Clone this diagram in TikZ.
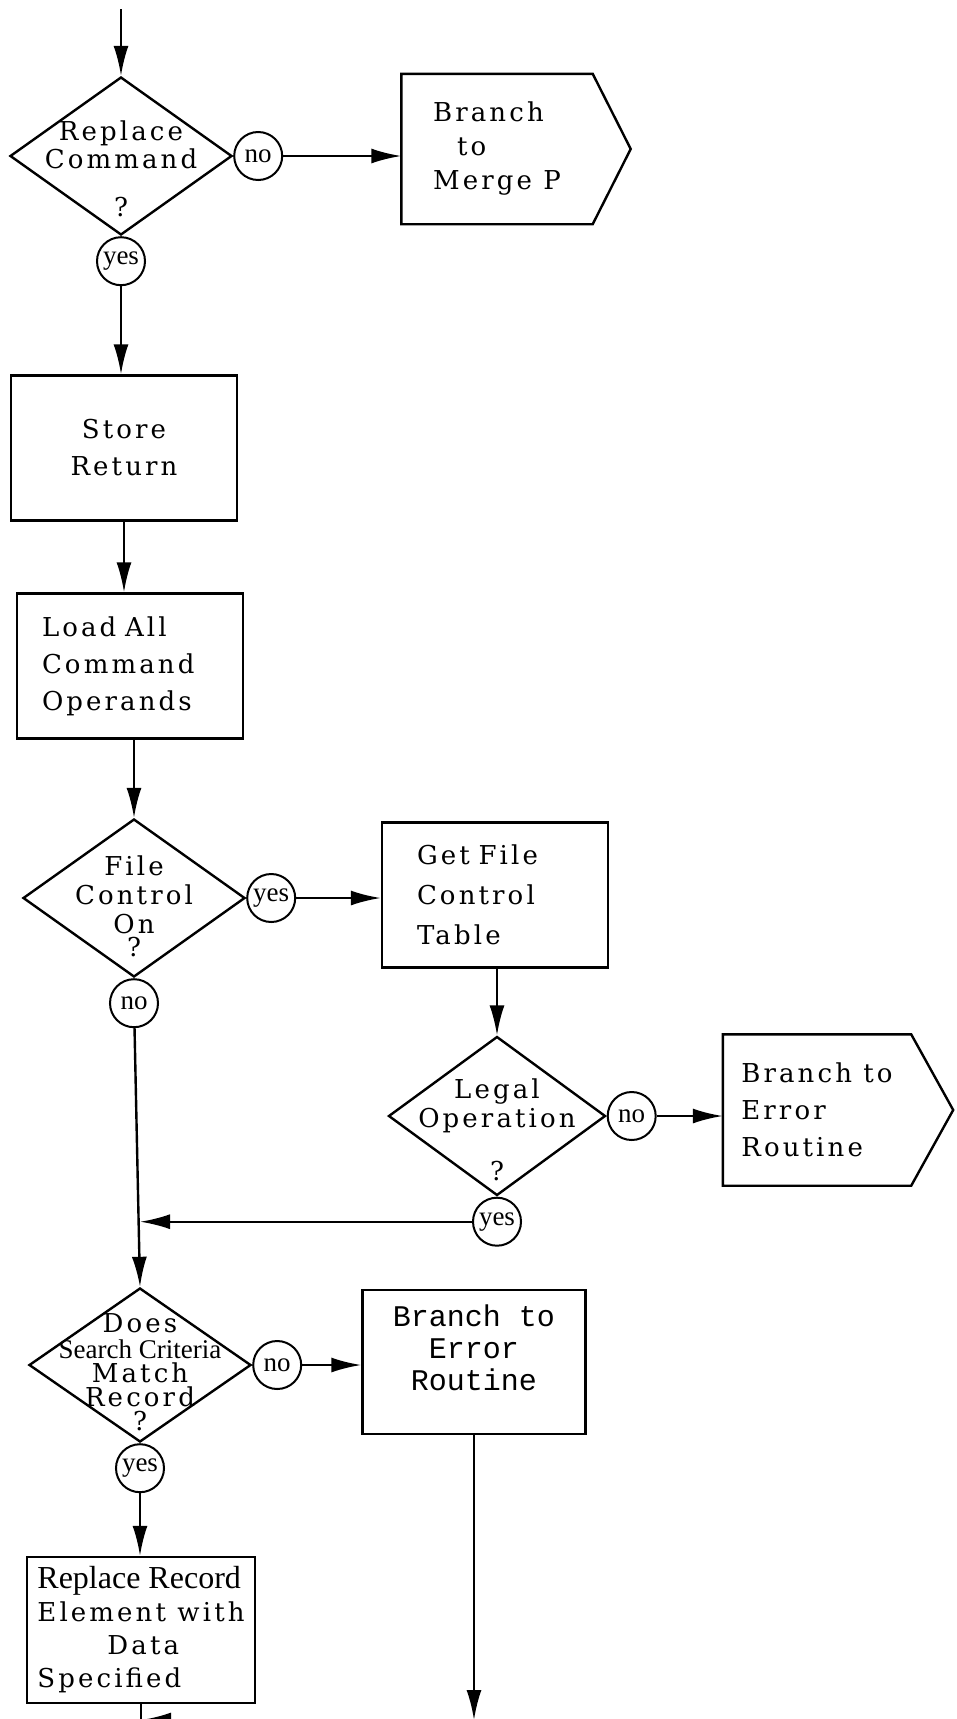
\documentclass[tikz,border=0pt]{standalone}
\usepackage{fontspec}
\newfontfamily\flowfont[LetterSpace=12]{DejaVu Serif}
\newfontfamily\tagfont{Liberation Serif}
\newfontfamily\typefont{Liberation Mono}
\usetikzlibrary{shapes.geometric,arrows.meta}
\tikzset{proc/.style={draw, line width=2.4pt, minimum width=226pt, minimum height=145pt,
  inner sep=0pt, align=left, font=\flowfont\fontsize{26}{37}\selectfont}}
\tikzset{decision/.style={draw, diamond, line width=2.4pt, minimum width=222pt,
  minimum height=158pt, inner sep=0pt}}
\tikzset{qtext/.style={align=center, inner sep=0pt, font=\flowfont\fontsize{26}{29}\selectfont}}
\tikzset{answer/.style={draw, circle, line width=2pt, minimum size=48pt, inner sep=0pt,
  font=\tagfont\fontsize{27}{27}\selectfont}}
\tikzset{flow/.style={line width=2.4pt, -{Latex[length=30pt,width=15pt]}}}
\tikzset{plain/.style={line width=2.4pt}}

\begin{document}
\begin{tikzpicture}[x=1pt, y=-1pt]
\useasboundingbox (0,0) rectangle (956,1719);

% replace command ?
\coordinate (entry) at (121,9);
\node[decision] (q1) at (121,156) {};
\node[qtext, font=\flowfont\fontsize{26}{28}\selectfont] (q1txt) at (121,169) {Replace\\Command\\[20pt]?};
\node[answer, anchor=west] (no1) at (q1.east) {no};
\node[answer, anchor=north] (yes1) at (q1.south) {yes};

\node[proc, draw=none, minimum width=189pt, minimum height=148pt,
  font=\flowfont\fontsize{26}{34}\selectfont] (merge) at (497,149) {Branch\\\hspace{24pt}to\\Merge P};
\draw[plain] (merge.north west) -- (merge.north east) -- ([xshift=38pt]merge.east)
  -- (merge.south east) -- (merge.south west) -- cycle;

\node[proc, align=center] (store) at (124,448) {Store\\Return};
\node[proc, text width=176pt] (load) at (130,666) {Load All\\Command\\Operands};

% file control on ?
\node[decision] (q2) at (134,898) {};
\node[qtext] (q2txt) at (134,906) {File\\Control\\On\\[-6pt]?};
\node[answer, anchor=west] (yes2) at (q2.east) {yes};
\node[answer, anchor=north] (no2) at (q2.south) {no};
\node[proc, text width=156pt, font=\flowfont\fontsize{26}{40}\selectfont] (getfct) at (495,895) {Get File\\Control\\Table};

% legal operation ?
\node[decision, minimum width=217pt, minimum height=159pt] (q3) at (497,1116) {};
\node[qtext] (q3txt) at (497,1130) {Legal\\Operation\\[24pt]?};
\node[answer, anchor=west] (no3) at (q3.east) {no};
\node[answer, anchor=north] (yes3) at (q3.south) {yes};

\node[proc, draw=none, minimum width=186pt, minimum height=149pt] (err1) at (817,1110) {Branch to\\Error\\Routine};
\draw[plain] (err1.north west) -- (err1.north east) -- ([xshift=42pt]err1.east)
  -- (err1.south east) -- (err1.south west) -- cycle;

% search criteria ?
\node[decision, minimum height=154pt] (q4) at (140,1365) {};
\node[qtext, font=\flowfont\fontsize{26}{24}\selectfont] (q4txt) at (140,1372)
  {Does\\[2pt]{\tagfont\fontsize{27}{24}\selectfont Search Criteria}\\Match\\Record\\?};
\node[answer, anchor=west] (no4) at (q4.east) {no};
\node[answer, anchor=north] (yes4) at (q4.south) {yes};

\node[proc, align=center, font=\typefont\fontsize{30}{32}\selectfont, minimum width=223pt,
  minimum height=144pt, text depth=28pt] (err2) at (474,1362) {Branch to\\Error\\Routine};
\node[proc, minimum width=228pt, minimum height=146pt,
  font=\flowfont\fontsize{26}{33}\selectfont] (repl) at (141,1630)
  {{\tagfont\fontsize{32}{33}\selectfont Replace Record}\\Element with\\\hspace{70pt}Data\\Specified};

\coordinate (join1) at (q4.north |- yes3);
\coordinate (meet) at (141,1720);

\draw[flow] (entry) -- (q1.north);
\draw[flow] (no1) -- (merge.west |- no1);
\draw[flow] (yes1) -- (yes1 |- store.north);
\draw[flow] (store) -- (store |- load.north);
\draw[flow] (q2.north |- load.south) -- (q2.north);
\draw[flow] (yes2) -- (getfct.west |- yes2);
\draw[flow] (q3.north |- getfct.south) -- (q3.north);
\draw[flow] (no3) -- (err1.west |- no3);
\draw[flow] (yes3) -- (join1);
\draw[flow] (no2) -- (q4.north);
\draw[flow] (no4) -- (err2.west |- no4);
\draw[flow] (yes4) -- (yes4 |- repl.north);
\draw[flow] (err2) -- (err2 |- meet);
\draw[flow] (err2 |- meet) -- (meet);
\draw[plain] (repl) -- (meet);

\end{tikzpicture}
\end{document}
